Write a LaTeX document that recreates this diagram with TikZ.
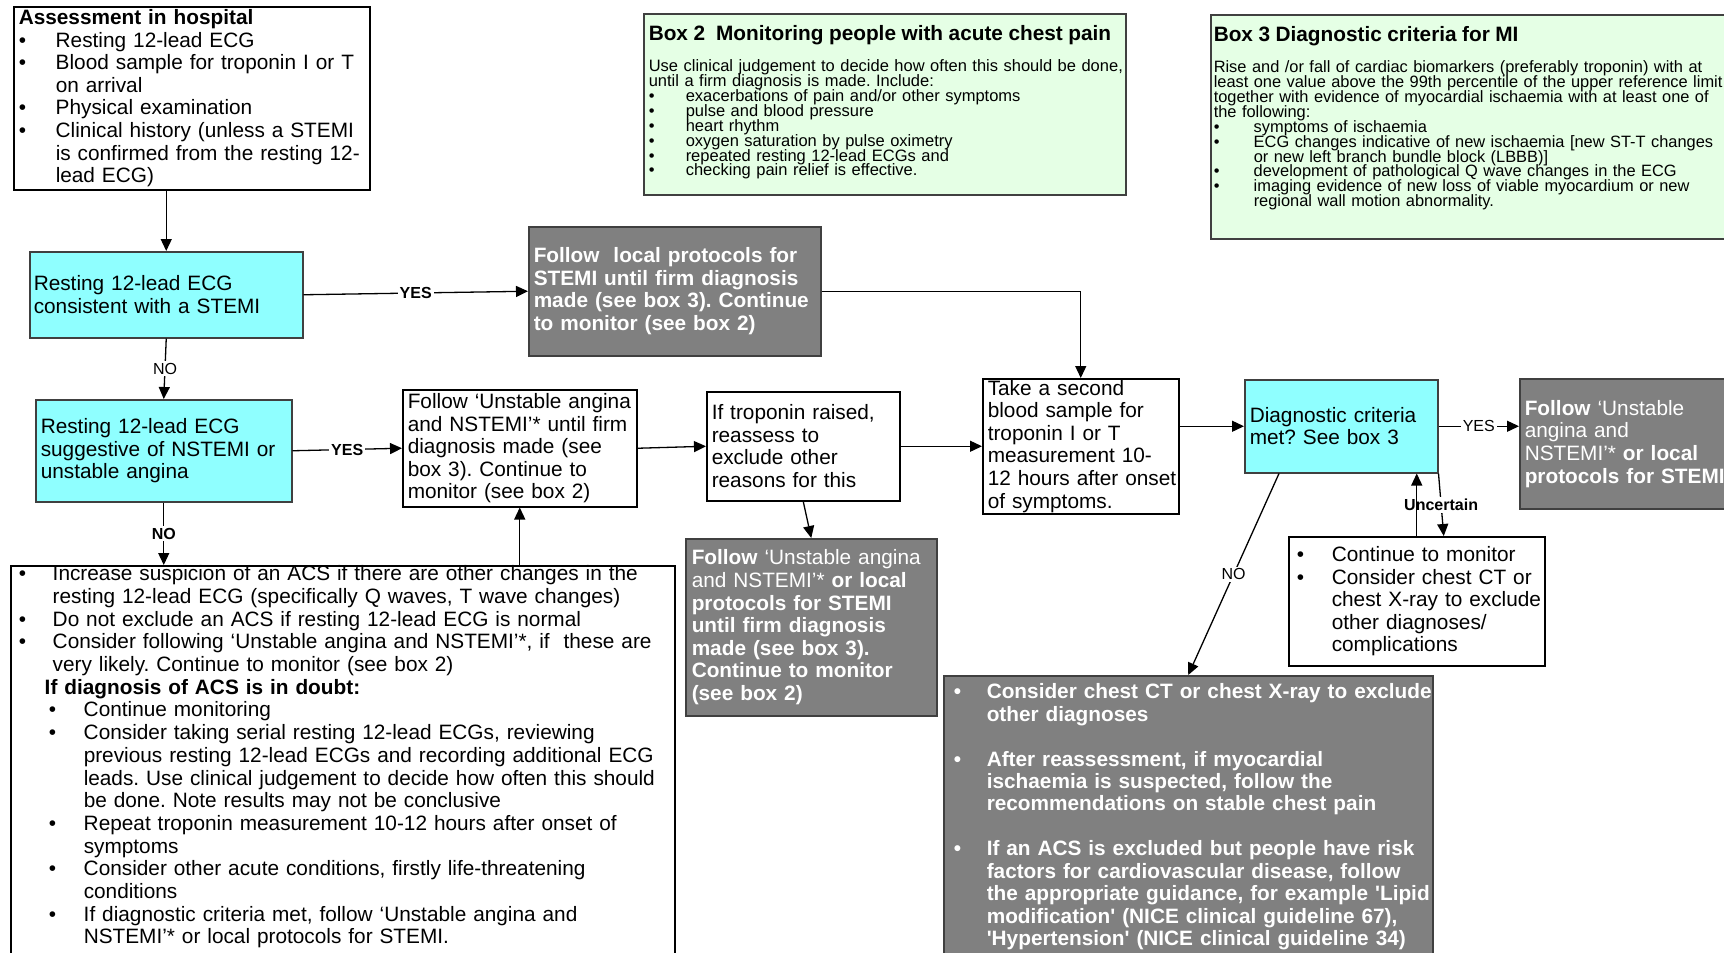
\documentclass[tikz,border=0pt]{standalone}
\usepackage{fontspec}
\setmainfont{Liberation Sans}
\usetikzlibrary{arrows.meta,calc}
\frenchspacing

\definecolor{ecgcyan}{RGB}{143,255,255}
\definecolor{notegreen}{RGB}{229,255,229}
\definecolor{actgrey}{RGB}{128,128,128}
\definecolor{edgegrey}{RGB}{64,64,64}

\newcommand{\mainsz}{\fontsize{10.4}{11.3}\selectfont}
\newcommand{\notesz}{\fontsize{8.25}{7.45}\selectfont}
\newcommand{\lblsz}{\fontsize{8}{9.6}\selectfont}
\newlength{\bulind}
\newcommand{\itm}{\makebox[\bulind][l]{\textbullet}}
\newcommand{\itmcont}{\hspace*{\bulind}}
\newcommand{\subitm}{\hspace*{15pt}\makebox[17.5pt][l]{\textbullet}}
\newcommand{\subcont}{\hspace*{32.5pt}}

\tikzset{
	txt/.style={execute at begin node={\lineskiplimit=-100pt\rightskip=0pt plus 1fil minus 60pt\setlength{\bulind}{#1}}},
	txt/.default=18.5pt,
	box/.style={draw, line width=0.75pt, anchor=north west, inner ysep=0pt, font=\mainsz, txt},
	plainbox/.style={box, fill=white},
	ecgbox/.style={box, draw=edgegrey, fill=ecgcyan},
	actbox/.style={box, draw=edgegrey, fill=actgrey, text=white},
	notebox/.style={box, draw=edgegrey, fill=notegreen, font=\notesz},
	arr/.style={line width=0.65pt, -{Triangle[length=6pt,width=5.5pt]}},
	lbl/.style={fill=white, inner sep=1pt, font=\lblsz},
}

\begin{document}
\begin{tikzpicture}[x=0.5pt, y=-0.5pt]
	\useasboundingbox (0,0) rectangle (1724,953);
	\clip (0,0) rectangle (1724,953);

	\node[plainbox, minimum width=178pt, minimum height=91.5pt, inner xsep=2.5pt, text width=173pt] (assess) at (13,6) {{\bfseries Assessment in hospital}\\
		\itm Resting 12-lead ECG\\
		\itm Blood sample for troponin I or T\\
		\itmcont on arrival\\
		\itm Physical examination\\
		\itm Clinical history (unless a STEMI\\
		\itmcont is confirmed from the resting 12-\\
		\itmcont lead ECG)};

	\node[notebox, minimum width=241pt, inner xsep=2.5pt, text width=236pt, text height=13.5pt, text depth=77pt] (box2) at (643,13) {{\mainsz\bfseries Box 2\ \ Monitoring people with acute chest pain}\\[8pt]
		Use clinical judgement to decide how often this should be done,\\
		until a firm diagnosis is made. Include:\\
		\itm exacerbations of pain and/or other symptoms\\
		\itm pulse and blood pressure\\
		\itm heart rhythm\\
		\itm oxygen saturation by pulse oximetry\\
		\itm repeated resting 12-lead ECGs and\\
		\itm checking pain relief is effective.};

	\node[notebox, font=\fontsize{8.2}{7.45}\selectfont, txt=20pt, minimum width=270pt, inner xsep=1.5pt, text width=267pt, text height=13.5pt, text depth=98.5pt] (box3) at (1210,14) {{\mainsz\bfseries Box 3 Diagnostic criteria for MI}\\[8pt]
		Rise and /or fall of cardiac biomarkers (preferably troponin) with at\\
		least one value above the 99th percentile of the upper reference limit\\
		together with evidence of myocardial ischaemia with at least one of\\
		the following:\\
		\itm symptoms of ischaemia\\
		\itm ECG changes indicative of new ischaemia [new ST-T changes\\
		\itmcont or new left branch bundle block (LBBB)]\\
		\itm development of pathological Q wave changes in the ECG\\
		\itm imaging evidence of new loss of viable myocardium or new\\
		\itmcont regional wall motion abnormality.};

	\node[ecgbox, minimum width=136.5pt, minimum height=43pt, inner xsep=2pt, text width=132.5pt] (stemi) at (29,251) {Resting 12-lead ECG\\consistent with a STEMI};

	\node[actbox, font=\mainsz\bfseries, minimum width=146pt, minimum height=64.5pt, inner xsep=2.5pt, text width=141pt] (stemiact) at (528,226) {Follow\ \ local protocols for\\STEMI until firm diagnosis\\made (see box 3). Continue\\to monitor (see box 2)};

	\node[ecgbox, minimum width=128pt, minimum height=51pt, inner xsep=2.5pt, text width=123pt] (nstemi) at (35,399) {Resting 12-lead ECG\\suggestive of NSTEMI or\\unstable angina};

	\node[plainbox, minimum width=117pt, minimum height=58.5pt, inner xsep=2.5pt, text width=112pt] (ua) at (402,389) {Follow ‘Unstable angina\\and NSTEMI’* until firm\\diagnosis made (see\\box 3). Continue to\\monitor (see box 2)};

	\node[plainbox, minimum width=96.5pt, minimum height=54.5pt, inner xsep=2.5pt, text width=91.5pt] (trop) at (706,391) {If troponin raised,\\reassess to\\exclude other\\reasons for this};

	\node[plainbox, minimum width=98pt, minimum height=67.5pt, inner xsep=2.5pt, text width=93pt] (second) at (982,378) {Take a second\\blood sample for\\troponin I or T\\measurement 10-\\12 hours after onset\\of symptoms.};

	\node[ecgbox, minimum width=96.5pt, minimum height=46.5pt, inner xsep=2.5pt, text width=91.5pt] (diag) at (1244,379) {Diagnostic criteria\\met? See box 3};

	\node[actbox, minimum width=120pt, minimum height=65pt, inner xsep=2.5pt, text width=115pt] (diagact) at (1519,378) {\textbf{Follow} ‘Unstable\\angina and\\NSTEMI’* \textbf{or local}\\\textbf{protocols for STEMI}};

	\node[plainbox, txt=17.5pt, minimum width=128pt, minimum height=64.5pt, inner xsep=4pt, text width=120pt] (cont) at (1288,536) {\itm Continue to monitor\\
		\itm Consider chest CT or\\
		\itmcont chest X-ray to exclude\\
		\itmcont other diagnoses/\\
		\itmcont complications};

	\node[actbox, minimum width=122.5pt, minimum height=88.5pt, inner xsep=3pt, text width=119.5pt] (trocact) at (685,538) {\textbf{Follow} ‘Unstable angina\\and NSTEMI’* \textbf{or local}\\\textbf{protocols for STEMI}\\\textbf{until firm diagnosis}\\\textbf{made (see box 3).}\\\textbf{Continue to monitor}\\\textbf{(see box 2)}};

	\node[plainbox, font=\fontsize{10.4}{11.35}\selectfont, txt=17pt, minimum width=332pt, inner xsep=4pt, text width=324pt, text height=7.5pt, text depth=197.5pt] (doubt) at (10,565) {\itm Increase suspicion of an ACS if there are other changes in the\\
		\itmcont resting 12-lead ECG (specifically Q waves, T wave changes)\\
		\itm Do not exclude an ACS if resting 12-lead ECG is normal\\
		\itm Consider following ‘Unstable angina and NSTEMI’*, if\ \ these are\\
		\itmcont very likely. Continue to monitor (see box 2)\\
		\hspace*{13pt}\textbf{If diagnosis of ACS is in doubt:}\\
		\subitm Continue monitoring\\
		\subitm Consider taking serial resting 12-lead ECGs, reviewing\\
		\subcont previous resting 12-lead ECGs and recording additional ECG\\
		\subcont leads. Use clinical judgement to decide how often this should\\
		\subcont be done. Note results may not be conclusive\\
		\subitm Repeat troponin measurement 10-12 hours after onset of\\
		\subcont symptoms\\
		\subitm Consider other acute conditions, firstly life-threatening\\
		\subcont conditions\\
		\subitm If diagnostic criteria met, follow ‘Unstable angina and\\
		\subcont NSTEMI’* or local protocols for STEMI.};

	\node[actbox, font=\fontsize{10.4}{11.22}\selectfont\bfseries, txt=16.5pt, minimum width=244.5pt, inner xsep=5pt, text width=234.5pt, text height=11.5pt, text depth=138.5pt] (noact) at (943,675) {\itm Consider chest CT or chest X-ray to exclude\\
		\itmcont other diagnoses\\[11.22pt]
		\itm After reassessment, if myocardial\\
		\itmcont ischaemia is suspected, follow the\\
		\itmcont recommendations on stable chest pain\\[11.22pt]
		\itm If an ACS is excluded but people have risk\\
		\itmcont factors for cardiovascular disease, follow\\
		\itmcont the appropriate guidance, for example \textquotesingle Lipid\\
		\itmcont modification\textquotesingle{} (NICE clinical guideline 67),\\
		\itmcont \textquotesingle Hypertension\textquotesingle{} (NICE clinical guideline 34)};

	\draw[arr] (assess.south -| stemi.north) -- (stemi.north);
	\draw[arr] (stemi.east) -- node[lbl, font=\lblsz\bfseries] (yesstemi) {YES} (stemiact.west);
	\draw[arr] (stemiact.east) -| (second.north);
	\draw[arr] (stemi.south) -- node[lbl] (nostemi) {NO} (nstemi.north);
	\draw[arr] (nstemi.east) -- node[lbl, font=\lblsz\bfseries] (yesnstemi) {YES} (ua.west);
	\draw[arr] (nstemi.south) -- node[lbl, font=\lblsz\bfseries] (nonstemi) {NO} (nstemi.south |- doubt.north);
	\draw[arr] (doubt.north -| ua.south) -- (ua.south);
	\foreach \a/\b in {ua/trop, trop/second}{
		\draw[arr] (\a.east) -- (\b.west);
	}
	\draw[arr] (trop.south) -- (trocact.north);
	\draw[arr] (second.east |- diag.west) -- (diag.west);
	\draw[arr] (diag.east) -- node[lbl] (yesdiag) {YES} (diag.east -| diagact.west);
	\draw[arr] (diag.south east) -- node[lbl, font=\lblsz\bfseries] (unsure) {Uncertain} ($(cont.north)+(27,0)$);
	\draw[arr] (cont.north) -- (cont.north |- diag.south);
	\coordinate (diagno) at ($(diag.south west)+(35,0)$);
	\draw[arr] (diagno) -- node[lbl] (nodiag) {NO} (noact.north);
\end{tikzpicture}
\end{document}
